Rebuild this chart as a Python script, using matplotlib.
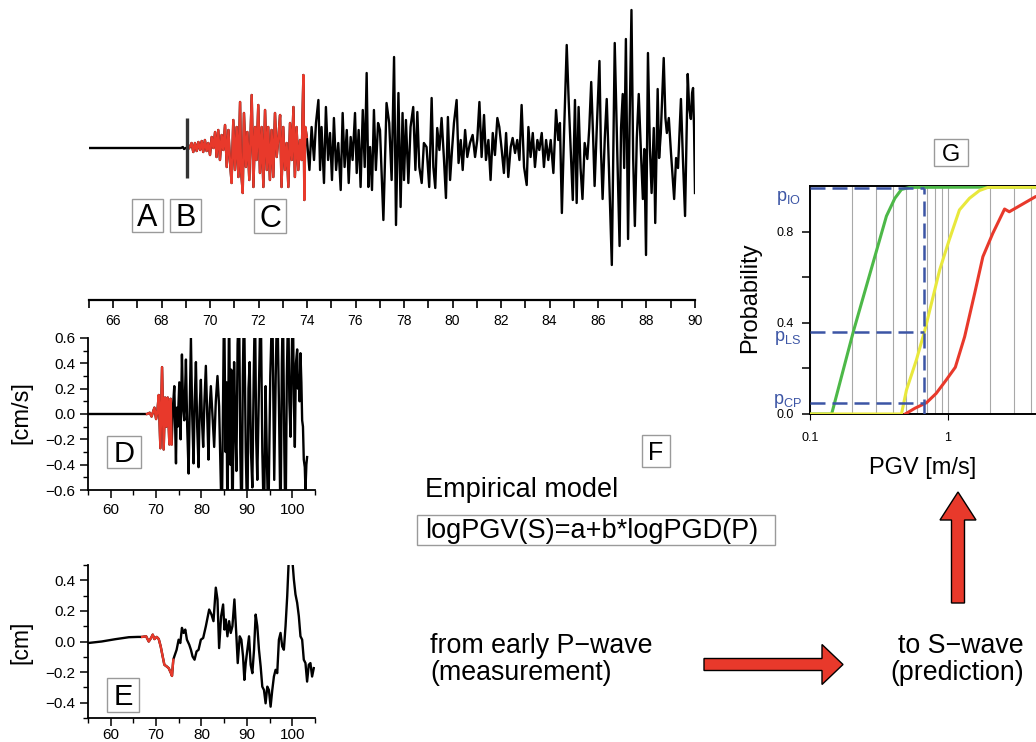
import numpy as np
import matplotlib.pyplot as plt
from matplotlib.patches import Rectangle, FancyArrow
from matplotlib.ticker import MultipleLocator, FixedLocator, FixedFormatter, FuncFormatter, NullFormatter

plt.rcParams['font.family'] = ['Liberation Sans', 'DejaVu Sans']
plt.rcParams['mathtext.fontset'] = 'custom'
plt.rcParams['mathtext.rm'] = 'Liberation Sans'
plt.rcParams['mathtext.it'] = 'Liberation Sans:italic'

RED = '#e8392b'
BLUE = '#3c55a5'
GREEN = '#4db848'
YELLOW = '#e8e83c'

# ---- top seismogram: (time [s], raw amplitude)
top_trace = [
    (65.00, 0), (68.80, 0), (68.88, 1), (68.93, -1), (69.00, 0), (69.10, -1),
    # P-wave window
    (69.17, 1), (69.24, 5), (69.31, -4), (69.38, 5), (69.45, -3), (69.52, 6), (69.59, -2),
    (69.66, 7), (69.72, -4), (69.79, 8), (69.86, -3), (69.93, 5), (70.00, -7), (70.07, 11),
    (70.14, 0), (70.21, 16), (70.27, -9), (70.34, 18), (70.41, -12), (70.48, 13), (70.55, -2),
    (70.62, 23), (70.69, -19), (70.76, 18), (70.82, -12), (70.89, -35), (70.96, 28), (71.03, -22),
    (71.10, 21), (71.17, -29), (71.24, 46), (71.28, -22), (71.35, -45), (71.40, 35), (71.48, -19),
    (71.54, 16), (71.62, -32), (71.72, 53), (71.79, -39), (71.86, 21), (71.92, -12), (71.99, 43),
    (72.06, -25), (72.13, 21), (72.20, -39), (72.27, 38), (72.34, -22), (72.40, 21), (72.47, -32),
    (72.54, 18), (72.61, -29), (72.68, 35), (72.75, -9), (72.82, 11), (72.89, 33), (72.95, -39),
    (73.02, 21), (73.09, -22), (73.16, 5), (73.23, -39), (73.30, 25), (73.37, -12), (73.44, 41),
    (73.50, -29), (73.57, 21), (73.64, -22), (73.71, 8), (73.78, -12), (73.85, 73), (73.89, -52),
    (73.93, 21), (73.99, 11),
    # S-wave and coda
    (74.10, -22), (74.19, 21), (74.29, -12), (74.37, 25), (74.47, 48), (74.54, -22), (74.60, 21),
    (74.70, -35), (74.78, 41), (74.87, -12), (74.95, 15), (75.03, -32), (75.11, 30), (75.20, -22),
    (75.29, 5), (75.39, -42), (75.47, 35), (75.55, -19), (75.64, 18), (75.72, -35), (75.80, 11),
    (75.88, -12), (75.98, 35), (76.05, -25), (76.13, 18), (76.21, -39), (76.30, 38), (76.38, -19),
    (76.46, 75), (76.53, -39), (76.60, 1), (76.68, -42), (76.76, 38), (76.84, -22), (76.93, 25),
    (77.01, 18), (77.15, -72), (77.28, 45), (77.39, 25), (77.49, -32), (77.59, 91), (77.67, -77),
    (77.77, 55), (77.86, -59), (77.94, 35), (78.00, -32), (78.08, 28), (78.18, -35), (78.27, 21),
    (78.38, 41), (78.47, -22), (78.55, 36), (78.63, -19), (78.73, -35), (78.82, 5), (78.93, 1),
    (79.04, -39), (79.14, 50), (79.21, -19), (79.29, -40), (79.37, 20), (79.46, -2), (79.55, 30),
    (79.65, -12), (79.73, -50), (79.81, 31), (79.90, -32), (79.98, -2), (80.06, 25), (80.17, 48),
    (80.25, -15), (80.34, 8), (80.42, -22), (80.52, 18), (80.61, -9), (80.72, 5), (80.83, 13),
    (80.93, -9), (81.02, 8), (81.11, 46), (81.20, -9), (81.30, 33), (81.38, -12), (81.48, 8),
    (81.57, -32), (81.66, 15), (81.75, -7), (81.85, 30), (81.93, 21), (82.03, -2), (82.12, -25),
    (82.21, 15), (82.30, -29), (82.40, 1), (82.48, 10), (82.58, -5), (82.67, 8), (82.76, -12),
    (82.85, 43), (82.95, -19), (83.06, -37), (83.13, 21), (83.22, -9), (83.31, 15), (83.40, -19),
    (83.50, 8), (83.58, -2), (83.68, 15), (83.77, -19), (83.86, 8), (83.95, -12), (84.05, 8),
    (84.16, -25), (84.27, 38), (84.36, 8), (84.43, 25), (84.51, -65), (84.60, 15), (84.71, 103),
    (84.79, 48), (84.87, 1), (84.96, -52), (85.05, 48), (85.12, -55), (85.20, 41), (85.28, -20),
    (85.36, -51), (85.45, 5), (85.56, -11), (85.64, 20), (85.72, 66), (85.80, 10), (85.86, -38),
    (85.95, 20), (86.06, 87), (86.12, 0), (86.19, -51), (86.28, 10), (86.36, 49), (86.45, -20),
    (86.57, -117), (86.69, 105), (86.80, -10), (86.89, -98), (86.95, 20), (87.02, 54), (87.08, -20),
    (87.15, 109), (87.24, -91), (87.30, 20), (87.38, 138), (87.45, -10), (87.52, -78), (87.60, 10),
    (87.68, 54), (87.78, -10), (87.85, -51), (87.91, -1), (87.98, -107), (88.06, 95), (88.14, 0),
    (88.21, -45), (88.30, 20), (88.36, -75), (88.46, 59), (88.52, -10), (88.59, 15), (88.71, 90),
    (88.78, 30), (88.84, 15), (88.92, 30), (89.01, -5), (89.08, -30), (89.14, -51), (89.22, -10),
    (89.30, -20), (89.42, 49), (89.50, -10), (89.59, -68), (89.70, 74), (89.76, 40), (89.83, 29),
    (89.88, 55), (89.92, 60), (89.96, 20), (90.00, -45),
]
p_pick = 69.04
top_window = (69.10, 73.99)

# ---- velocity [cm/s]
vel_t = [55.00, 68.00, 68.60, 69.00, 69.63, 70.00, 70.30, 70.58, 70.94, 71.31,
         71.67, 71.97, 72.25, 72.55, 72.92, 73.20, 73.43, 73.70, 74.01, 74.20,
         74.38, 74.55, 74.75, 75.11, 75.40, 75.69, 75.95, 76.21, 76.40, 76.57,
         76.85, 77.16, 77.67, 77.95, 78.25, 78.50, 78.77, 79.05, 79.35, 79.60,
         79.86, 80.10, 80.37, 80.65, 80.96, 81.25, 81.54, 81.80, 82.06, 82.40,
         82.79, 83.15, 83.52, 83.88, 84.47, 84.98, 85.30, 85.50, 85.71, 86.08,
         86.35, 86.55, 86.81, 87.18, 87.45, 87.69, 87.95, 88.27, 88.55, 88.86,
         89.10, 89.37, 89.75, 90.10, 90.35, 90.61, 90.90, 91.20, 91.50, 91.78,
         92.05, 92.29, 92.65, 93.03, 93.40, 93.76, 94.12, 94.40, 94.71, 95.15,
         95.59, 96.02, 96.35, 96.68, 97.05, 97.41, 97.70, 97.93, 98.25, 98.51,
         98.80, 99.10, 99.35, 99.61, 99.90, 100.12, 100.35, 100.56, 100.80, 101.07,
         101.25, 101.44, 101.60, 101.80, 102.00, 102.17, 102.35, 102.53, 102.75, 102.90,
         103.10, 103.26]
vel_v = [0.00, 0.00, 0.01, -0.02, 0.05, -0.04, 0.03, 0.15, -0.27, 0.37,
         -0.28, 0.13, -0.10, 0.13, -0.24, 0.12, -0.24, 0.05, 0.22, -0.10,
         -0.39, 0.05, -0.10, 0.25, -0.20, 0.47, 0.05, -0.05, 0.20, 0.43,
         -0.10, -0.47, 0.60, 0.00, -0.39, 0.10, 0.41, -0.10, -0.42, 0.05,
         0.27, -0.05, -0.26, 0.10, 0.38, 0.00, -0.36, 0.05, 0.22, 0.00,
         -0.26, 0.10, 0.30, 0.06, -0.90, 0.95, -0.30, 0.25, -0.90, 0.90,
         -0.40, 0.35, -0.95, 0.41, -0.10, -0.45, 0.55, 0.90, -0.30, -0.95,
         0.30, 0.90, -0.30, -0.90, 0.20, 0.41, -0.30, -0.58, 0.30, 0.90,
         -0.20, -0.52, 0.20, 0.95, -0.30, -0.90, 0.22, -0.35, -0.90, 0.30,
         0.90, -0.52, 0.30, 0.95, 0.10, -0.90, 0.40, 0.90, -0.30, -0.95,
         0.30, 0.90, 0.10, -0.18, 0.50, 0.90, 0.10, -0.26, 0.40, 0.51,
         0.20, 0.30, 0.10, 0.48, 0.25, -0.05, -0.10, -0.36, -0.42, -0.60,
         -0.40, -0.34]
vel_window = (68.0, 73.43)

# ---- displacement [cm]
disp_t = [55.00, 58.00, 61.00, 64.00, 66.00, 66.92, 67.80, 68.38, 68.89, 69.26,
          69.63, 70.14, 70.58, 71.01, 71.45, 71.82, 72.33, 72.77, 73.28, 73.50,
          73.79, 74.01, 74.52, 74.96, 75.33, 75.69, 76.06, 76.43, 76.79, 77.30,
          77.67, 78.03, 78.47, 78.91, 79.35, 79.86, 80.37, 80.96, 81.69, 82.20,
          82.64, 83.15, 83.52, 83.88, 84.32, 84.76, 85.05, 85.35, 85.71, 86.08,
          86.44, 86.81, 87.25, 87.69, 87.98, 88.42, 88.78, 89.15, 89.44, 89.74,
          90.10, 90.47, 90.83, 91.20, 91.57, 91.93, 92.29, 92.66, 93.03, 93.39,
          93.76, 94.12, 94.49, 94.85, 95.22, 95.59, 95.95, 96.32, 96.68, 97.05,
          97.41, 97.78, 98.14, 98.51, 98.88, 99.24, 99.97, 100.34, 100.70, 101.07,
          101.44, 101.80, 102.17, 102.53, 102.90, 103.26, 103.63, 103.99, 104.36, 104.73]
disp_d = [-0.010, 0.000, 0.015, 0.028, 0.030, 0.030, 0.034, 0.000, 0.023, 0.045,
          0.016, 0.030, 0.016, -0.032, -0.098, -0.152, -0.163, -0.174, -0.207, -0.225,
          -0.119, -0.098, -0.054, 0.012, -0.010, 0.089, 0.056, 0.078, 0.012, -0.021,
          -0.054, -0.098, -0.119, -0.065, -0.054, 0.012, 0.023, 0.100, 0.209, 0.176,
          0.133, 0.352, 0.275, -0.043, 0.165, 0.242, 0.078, 0.144, 0.034, 0.133,
          0.056, 0.100, 0.275, 0.034, -0.141, 0.034, 0.012, -0.098, -0.251, -0.141,
          -0.054, 0.034, -0.152, -0.207, -0.054, 0.176, 0.100, -0.054, -0.163, -0.295,
          -0.317, -0.404, -0.295, -0.317, -0.426, -0.317, -0.229, -0.185, -0.207, 0.012,
          0.056, -0.032, -0.054, 0.100, 0.297, 0.550, 0.550, 0.407, 0.308, 0.253,
          0.165, 0.034, 0.012, -0.119, -0.141, -0.262, -0.152, -0.141, -0.229, -0.174]
disp_window = (66.92, 73.79)

# ---- fragility curves, PGV [m/s] vs probability
green_pgv = [0.10, 0.1435, 0.206, 0.358, 0.412, 0.46, 0.53, 10.0]
green_p = [0.0, 0.0, 0.361, 0.868, 0.946, 0.985, 0.994, 0.996]
yellow_pgv = [0.10, 0.46, 0.50, 0.59, 0.68, 0.78, 0.87, 1.02, 1.21, 1.43, 1.69, 1.95, 10.0]
yellow_p = [0.0, 0.0, 0.105, 0.237, 0.368, 0.515, 0.632, 0.763, 0.895, 0.946, 0.98, 0.994, 0.996]
red_pgv = [0.49, 0.575, 0.70, 0.82, 0.97, 1.13, 1.32, 1.56, 1.79, 2.11, 2.57, 2.78, 3.39, 4.3, 6.0]
red_p = [0.0, 0.025, 0.05, 0.09, 0.149, 0.205, 0.339, 0.529, 0.69, 0.792, 0.899, 0.887, 0.917, 0.953, 0.98]
pgv_pred = 0.665
p_levels = [0.99, 0.361, 0.05]
p_names = [r'$\mathrm{p_{IO}}$', r'$\mathrm{p_{LS}}$', r'$\mathrm{p_{CP}}$']

W, H = 1036, 742


def box(l, t, r, b):
    return [l / W, 1 - b / H, (r - l) / W, (b - t) / H]


def minus_fmt(x, pos):
    s = '%.1f' % x
    if s == '-0.0':
        s = '0.0'
    return s.replace('-', '\u2212')


def trace(ax, t, y, window):
    t = np.asarray(t)
    y = np.asarray(y)
    ax.plot(t, y, color='k', lw=1.7)
    m = (t >= window[0]) & (t <= window[1])
    ax.plot(t[m], y[m], color=RED, lw=1.7)


fig = plt.figure(figsize=(W / 100, H / 100), dpi=100)

# top trace
top_t, top_a = np.array(top_trace).T
ax1 = fig.add_axes(box(88.75, 0, 695, 300))
trace(ax1, top_t, top_a, top_window)
ax1.vlines(p_pick, -30, 30, color='#333333', lw=2.4)
ax1.set_xlim(65, 90)
ax1.set_ylim(-152, 148)
for s in ['left', 'right', 'top']:
    ax1.spines[s].set_visible(False)
ax1.spines['bottom'].set_linewidth(1.6)
ax1.set_yticks([])
ax1.xaxis.set_major_locator(MultipleLocator(2))
ax1.xaxis.set_minor_locator(MultipleLocator(1))
ax1.tick_params(which='both', direction='out', length=6, width=1.2, labelsize=10, pad=4)
ax1.patch.set_visible(False)

# velocity and displacement
for rect, t, y, win, lim, xpad in [((88, 338, 315, 490), vel_t, vel_v, vel_window, 0.6, 3),
                                   ((88, 565, 315, 718), disp_t, disp_d, disp_window, 0.5, 1)]:
    ax = fig.add_axes(box(*rect))
    trace(ax, t, y, win)
    ax.set_xlim(55, 105)
    ax.set_ylim(-lim, lim)
    ax.spines['top'].set_visible(False)
    ax.spines['right'].set_visible(False)
    for s in ['left', 'bottom']:
        ax.spines[s].set_linewidth(1.3)
    ax.xaxis.set_major_locator(MultipleLocator(10))
    ax.xaxis.set_minor_locator(MultipleLocator(5))
    ax.yaxis.set_major_locator(MultipleLocator(0.2))
    ax.yaxis.set_minor_locator(MultipleLocator(0.1))
    ax.yaxis.set_major_formatter(FuncFormatter(minus_fmt))
    ax.tick_params(which='major', direction='out', length=6, width=1.1, labelsize=11, pad=3)
    ax.tick_params(which='minor', direction='out', length=3.5, width=1.0)
    ax.tick_params(axis='x', pad=xpad)
    ax.patch.set_visible(False)

# fragility curves
axg = fig.add_axes(box(810, 186, 1086, 414))
axg.set_xscale('log')
axg.set_xlim(0.1, 10)
axg.set_ylim(0, 1)
axg.grid(which='both', axis='x', color='#a8a8a8', lw=0.8)
axg.plot(green_pgv, green_p, color=GREEN, lw=2.2, zorder=3)
axg.plot(yellow_pgv, yellow_p, color=YELLOW, lw=2.2, zorder=3)
axg.plot(red_pgv, red_p, color=RED, lw=2.2, zorder=3)
for p in p_levels:
    axg.plot([0.1, pgv_pred], [p, p], color=BLUE, lw=1.8, dashes=(6, 2.8), zorder=4)
axg.plot([pgv_pred, pgv_pred], [0, p_levels[0]], color=BLUE, lw=1.8, dashes=(6, 2.8), zorder=4)
axg.spines['right'].set_visible(False)
for s in ['left', 'bottom', 'top']:
    axg.spines[s].set_linewidth(1.4)
axg.xaxis.set_major_locator(FixedLocator([0.1, 1]))
axg.xaxis.set_major_formatter(FixedFormatter(['0.1', '1']))
axg.xaxis.set_minor_formatter(NullFormatter())
axg.tick_params(axis='x', which='major', direction='out', length=4, labelsize=9, pad=9)
axg.tick_params(axis='x', which='minor', length=0)
axg.yaxis.set_major_locator(FixedLocator([0.0, 0.4, 0.8]))
axg.yaxis.set_minor_locator(FixedLocator([0.2, 0.6]))
axg.yaxis.set_major_formatter(FuncFormatter(minus_fmt))
axg.tick_params(axis='y', which='both', direction='out', length=5.8, width=1.1, labelsize=9, pad=6)

# overlay in pixel units for labels, boxes and arrows
ov = fig.add_axes([0, 0, 1, 1])
ov.set_xlim(0, W)
ov.set_ylim(H, 0)
ov.axis('off')
ov.patch.set_visible(False)


def letter(txt, l, t, r, b, size):
    ov.add_patch(Rectangle((l, t), r - l, b - t, fc='white', ec='#9a9a9a', lw=1))
    cap = 0.716 * size * 100 / 72
    ov.text((l + r) / 2, (t + b) / 2 + cap / 2, txt, ha='center', va='baseline', fontsize=size)


letter('A', 132, 199, 163, 232, 22)
letter('B', 170, 199, 201, 232, 22)
letter('C', 254, 199, 286, 233, 22)
letter('D', 107, 436, 141, 468, 21)
letter('E', 107, 678, 139, 712, 21)
letter('F', 642, 435, 670, 467, 18)
letter('G', 934, 139, 968, 166, 17)

ov.text(21, 413, '[cm/s]', rotation=90, ha='center', va='center', fontsize=17)
ov.text(21, 642, '[cm]', rotation=90, ha='center', va='center', fontsize=16.5)
ov.text(750, 298, 'Probability', rotation=90, ha='center', va='center', fontsize=17)
ov.text(923, 468, 'PGV [m/s]', ha='center', va='center', fontsize=17)
for name, yy in zip(p_names, [198, 338, 401]):
    ov.text(788, yy, name, ha='center', va='center', fontsize=13, color=BLUE)

ov.text(425, 497, 'Empirical model', fontsize=19.5, va='baseline')
ov.add_patch(Rectangle((417, 515), 358, 30, fc='white', ec='#9a9a9a', lw=1))
ov.text(425, 538, 'logPGV(S)=a+b*logPGD(P)', fontsize=19.5, va='baseline')
ov.text(430, 653, 'from early P\u2212wave', fontsize=19.3, va='baseline')
ov.text(430, 680, '(measurement)', fontsize=19.3, va='baseline')
ov.text(1024, 653, 'to S\u2212wave', fontsize=19.3, va='baseline', ha='right')
ov.text(1024, 680, '(prediction)', fontsize=19.3, va='baseline', ha='right')

ov.add_patch(FancyArrow(704, 664.5, 139, 0, width=12, head_width=40, head_length=21,
                        length_includes_head=True, fc=RED, ec='k', lw=1))
ov.add_patch(FancyArrow(958, 603, 0, -111, width=13, head_width=36, head_length=28,
                        length_includes_head=True, fc=RED, ec='k', lw=1))

fig.savefig('out.png', dpi=100)
